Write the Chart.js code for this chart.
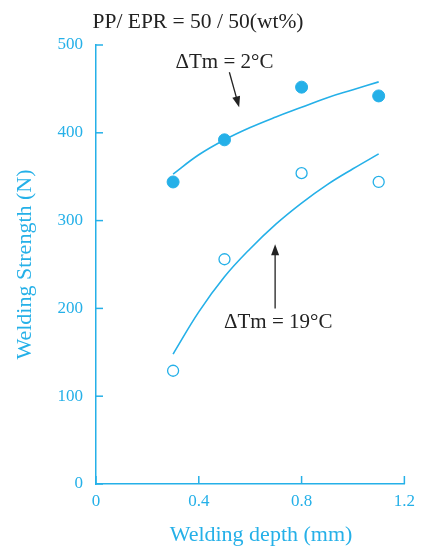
<!DOCTYPE html>
<html>
<head>
<meta charset="utf-8">
<script src="https://cdn.jsdelivr.net/npm/chart.js@4.4.0/dist/chart.umd.min.js"></script>
<style>
  body { margin: 0; background: #fff; }
  #wrap { width: 422px; height: 547px; }
</style>
</head>
<body>
<div id="wrap"><canvas id="grafico"></canvas></div>
<script>
// datos
const depth = [0.3, 0.5, 0.8, 1.1];
const strength2 = [344, 392, 452, 442];   // dTm = 2 C (llenos)
const strength19 = [129, 256, 354, 344];  // dTm = 19 C (vacios)

// curvas de ajuste
const fitDepth = [0.3, 0.4, 0.5, 0.6, 0.7, 0.8, 0.9, 1.0, 1.1];
const fit2 = [353, 375, 392, 406, 418, 429, 440, 449, 458];
const fit19 = [148, 196, 236, 268, 296, 320, 341, 359, 376];

const xTicks = [0, 0.4, 0.8, 1.2];
const yTicks = [0, 100, 200, 300, 400, 500];

const cyan = "#25b0e8";
const serif = "'Liberation Serif', 'DejaVu Serif', serif";

function pts(xs, ys) {
    return xs.map((x, i) => ({ x: x, y: ys[i] }));
}

// marcas de escala hacia adentro + textos y flechas
const extras = {
    id: "extras",
    afterDraw(chart) {
        const ctx = chart.ctx;
        const sx = chart.scales.x;
        const sy = chart.scales.y;
        ctx.save();
        ctx.strokeStyle = cyan;
        ctx.lineWidth = 1.5;
        yTicks.forEach((v) => {
            const py = sy.getPixelForValue(v);
            ctx.beginPath();
            ctx.moveTo(sx.left, py);
            ctx.lineTo(sx.left + 7, py);
            ctx.stroke();
        });
        xTicks.forEach((v) => {
            const px = sx.getPixelForValue(v);
            ctx.beginPath();
            ctx.moveTo(px, sy.bottom);
            ctx.lineTo(px, sy.bottom - 8);
            ctx.stroke();
        });

        // titulo
        ctx.fillStyle = "#222";
        ctx.textAlign = "center";
        ctx.textBaseline = "middle";
        ctx.font = "21.5px " + serif;
        ctx.fillText("PP/ EPR = 50 / 50(wt%)", 198, 22);

        // etiquetas
        ctx.font = "21px " + serif;
        ctx.fillText("\u0394Tm = 2\u00b0C", sx.getPixelForValue(0.5), sy.getPixelForValue(480));
        ctx.fillText("\u0394Tm = 19\u00b0C", sx.getPixelForValue(0.709), sy.getPixelForValue(184));

        // titulo eje x
        ctx.fillStyle = cyan;
        ctx.font = "22px " + serif;
        ctx.fillText("Welding depth (mm)", 261, 535);

        // flechas
        arrow(ctx, sx.getPixelForValue(0.519), sy.getPixelForValue(469), sx.getPixelForValue(0.557), sy.getPixelForValue(429));
        arrow(ctx, sx.getPixelForValue(0.697), sy.getPixelForValue(200), sx.getPixelForValue(0.697), sy.getPixelForValue(273));
        ctx.restore();
    }
};

function arrow(ctx, x1, y1, x2, y2) {
    const ang = Math.atan2(y2 - y1, x2 - x1);
    const len = 11, w = 4;
    ctx.strokeStyle = "#222";
    ctx.fillStyle = "#222";
    ctx.lineWidth = 1.3;
    ctx.beginPath();
    ctx.moveTo(x1, y1);
    ctx.lineTo(x2 - Math.cos(ang) * len * 0.8, y2 - Math.sin(ang) * len * 0.8);
    ctx.stroke();
    ctx.beginPath();
    ctx.moveTo(x2, y2);
    ctx.lineTo(x2 - Math.cos(ang) * len - Math.sin(ang) * w, y2 - Math.sin(ang) * len + Math.cos(ang) * w);
    ctx.lineTo(x2 - Math.cos(ang) * len + Math.sin(ang) * w, y2 - Math.sin(ang) * len - Math.cos(ang) * w);
    ctx.closePath();
    ctx.fill();
}

new Chart(document.getElementById("grafico"), {
    type: "scatter",
    data: {
        datasets: [
            {
                label: "ajuste 2",
                type: "line",
                data: pts(fitDepth, fit2),
                borderColor: cyan,
                borderWidth: 1.6,
                pointRadius: 0,
                tension: 0.4,
                fill: false
            },
            {
                label: "ajuste 19",
                type: "line",
                data: pts(fitDepth, fit19),
                borderColor: cyan,
                borderWidth: 1.6,
                pointRadius: 0,
                tension: 0.4,
                fill: false
            },
            {
                label: "dTm = 2",
                data: pts(depth, strength2),
                backgroundColor: cyan,
                borderColor: cyan,
                pointRadius: 6,
                pointHoverRadius: 6
            },
            {
                label: "dTm = 19",
                data: pts(depth, strength19),
                backgroundColor: "#fff",
                borderColor: cyan,
                borderWidth: 1.3,
                pointRadius: 5.5,
                pointHoverRadius: 5.5
            }
        ]
    },
    options: {
        responsive: true,
        maintainAspectRatio: false,
        animation: false,
        layout: { padding: { top: 45, right: 16, left: 0, bottom: 0 } },
        plugins: {
            legend: { display: false },
            tooltip: { enabled: false }
        },
        scales: {
            x: {
                type: "linear",
                min: 0,
                max: 1.2,
                afterBuildTicks: (s) => { s.ticks = xTicks.map((v) => ({ value: v })); },
                afterFit: (s) => { s.height = 63; },
                grid: { display: true, drawOnChartArea: false, drawTicks: false },
                border: { display: true, color: cyan, width: 1.5 },
                ticks: {
                    color: cyan,
                    font: { family: serif, size: 17 },
                    padding: 7,
                    callback: (v) => v === 0 ? "0" : v.toFixed(1)
                }
            },
            y: {
                type: "linear",
                min: 0,
                max: 500,
                afterBuildTicks: (s) => { s.ticks = yTicks.map((v) => ({ value: v })); },
                afterFit: (s) => { s.width = 96; },
                grid: { display: true, drawOnChartArea: false, drawTicks: false },
                border: { display: true, color: cyan, width: 1.5 },
                ticks: {
                    color: cyan,
                    font: { family: serif, size: 17 },
                    padding: 13
                },
                title: {
                    display: true,
                    text: "Welding Strength (N)",
                    color: cyan,
                    font: { family: serif, size: 22 },
                    padding: { top: 12, bottom: 0 }
                }
            }
        }
    },
    plugins: [extras]
});
</script>
</body>
</html>
